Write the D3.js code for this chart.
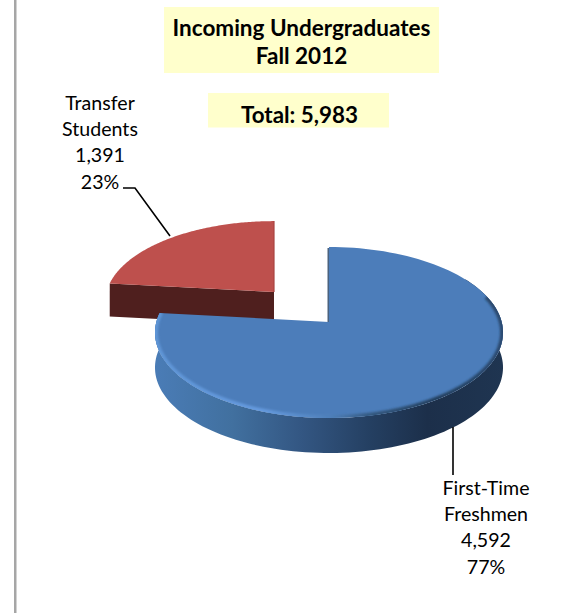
<!DOCTYPE html>
<html><head><meta charset="utf-8">
<script src="https://cdn.jsdelivr.net/npm/d3@7/dist/d3.min.js"></script>
<style>html,body{margin:0;padding:0;background:#fff}svg{display:block}text{font-family:Lato,Carlito,sans-serif;fill:#000}</style>
</head><body><svg id="c" width="561" height="613"></svg>
<script>
const categories = ["First-Time Freshmen", "Transfer Students"];
const values = [4592, 1391];
const percents = ["77%", "23%"];
const labelLines = [["First-Time", "Freshmen"], ["Transfer", "Students"]];
const titleLines = ["Incoming Undergraduates", "Fall 2012"];
const totalText = "Total: 5,983";

const W = 561, H = 613;
const svg = d3.select("#c");
const defs = svg.append("defs");
const fmt = d3.format(",");

const arcs = d3.pie().sort(null).value(d => d)(values);

// Tilted-disc projection: plane coordinates to pixels
const K = 0.1228;
const projector = (cx, cy, rx, ry) => (a, r = 1) => {
  const u = r * Math.sin(a), v = r * Math.cos(a), w = 1 + K * v;
  return [cx + rx * u / w, cy - ry * v / w];
};
const blueP = projector(329, 322, 172.7, 84.2);
const redP = projector(274, 292, 167.5, 79.6);
const line = d3.line();
const rim = (P, a0, a1) => d3.range(0, 121).map(i => P(a0 + (a1 - a0) * i / 120));
const shift = (pts, dy) => pts.map(p => [p[0], p[1] + dy]);

// Gradients
const wallGrad = defs.append("linearGradient").attr("id", "wall")
  .attr("gradientUnits", "userSpaceOnUse").attr("x1", 156).attr("x2", 504).attr("y1", 0).attr("y2", 0);
[[0, "#4a7cb6"], [0.22, "#41709f"], [0.42, "#335682"], [0.62, "#243f61"], [0.78, "#1c2f4a"], [1, "#1f3551"]]
  .forEach(s => wallGrad.append("stop").attr("offset", s[0]).attr("stop-color", s[1]));
const bevelGrad = defs.append("linearGradient").attr("id", "bevel")
  .attr("gradientUnits", "userSpaceOnUse").attr("x1", 156).attr("x2", 504).attr("y1", 0).attr("y2", 0);
[[0, "#5f95d6"], [0.3, "#659ade"], [0.5, "#4f80ba"], [0.62, "#33587f"], [0.8, "#24405f"], [1, "#2b4a70"]]
  .forEach(s => bevelGrad.append("stop").attr("offset", s[0]).attr("stop-color", s[1]));
defs.append("filter").attr("id", "soft").attr("x", "-10%").attr("y", "-10%").attr("width", "120%").attr("height", "120%")
  .append("feGaussianBlur").attr("stdDeviation", 1.3);

// Page rule
svg.append("rect").attr("x", 14).attr("y", 0).attr("width", 2.5).attr("height", H).attr("fill", "#a6a6a6");

// Title boxes
svg.append("rect").attr("x", 164).attr("y", 7).attr("width", 275).attr("height", 66).attr("fill", "#ffffcc");
svg.append("rect").attr("x", 208).attr("y", 93).attr("width", 181).attr("height", 34.5).attr("fill", "#ffffcc");
svg.append("g").selectAll("text").data(titleLines).join("text")
  .attr("x", 301.5).attr("y", (d, i) => 36 + i * 28)
  .attr("text-anchor", "middle").attr("font-size", 22.5).attr("font-weight", 700).text(d => d);
svg.append("text").attr("x", 299.5).attr("y", 122.5).attr("text-anchor", "middle")
  .attr("font-size", 22.4).attr("font-weight", 700).text(totalText);

// Red exploded slice
const red = arcs[1], blue = arcs[0];
const RED_DEPTH = 33, BLUE_DEPTH = 35;
const redApex = redP(0, 0);
const redLeft = redP(red.startAngle);
svg.append("path").attr("fill", "#4f1f1e")
  .attr("d", line([redLeft, redApex, [redApex[0], redApex[1] + RED_DEPTH], [redLeft[0], redLeft[1] + RED_DEPTH]]) + "Z");
svg.append("path").attr("fill", "#be504d")
  .attr("d", line([redApex, ...rim(redP, red.startAngle, red.endAngle)]) + "Z");
svg.append("path").attr("fill", "none").attr("stroke", "#a84442").attr("stroke-width", 1.2)
  .attr("d", line([redP(red.endAngle), redApex]));

// Blue slice
const bRim = rim(blueP, blue.startAngle, blue.endAngle);
const wallRim = rim(blueP, 1.0, blue.endAngle);
const bApex = blueP(0, 0);
svg.append("path").attr("fill", "url(#wall)")
  .attr("d", line([...wallRim, ...shift(wallRim, BLUE_DEPTH).reverse()]) + "Z");
svg.append("path").attr("fill", "none").attr("stroke", "#1d3a5e").attr("stroke-width", 1.2)
  .attr("d", line([[bApex[0] - 0.8, bApex[1]], [blueP(0)[0] - 0.8, blueP(0)[1] + 1]]));
const topD = line([bApex, ...bRim]) + "Z";
svg.append("path").attr("fill", "#4c7dba").attr("d", topD);
defs.append("clipPath").attr("id", "topClip").append("path").attr("d", topD);
svg.append("g").attr("clip-path", "url(#topClip)")
  .append("path").attr("fill", "none").attr("stroke", "url(#bevel)").attr("stroke-width", 6)
  .attr("filter", "url(#soft)")
  .attr("d", line(rim(blueP, 1.25, blue.endAngle + 0.01)));

// Leader lines
const leader = [[[453, 427], [453, 475]], [[123, 188], [135, 188], [170, 236]]];
svg.append("g").selectAll("path").data(leader).join("path")
  .attr("fill", "none").attr("stroke", "#000").attr("stroke-width", 1.6).attr("d", d => line(d));

// Data labels
const labelPos = [[486, 494.5], [100, 109.5]];
categories.forEach((c, i) => {
  const lines = [...labelLines[i], fmt(values[i]), percents[i]];
  svg.append("g").selectAll("text").data(lines).join("text")
    .attr("x", labelPos[i][0]).attr("y", (d, j) => labelPos[i][1] + j * 26.4)
    .attr("text-anchor", "middle").attr("font-size", 19.6).text(d => d);
});
</script></body></html>
